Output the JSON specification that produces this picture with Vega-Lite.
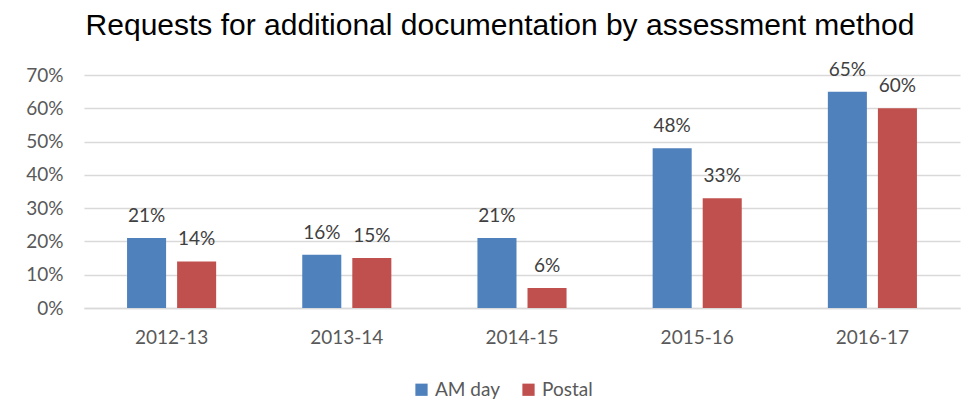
{
  "$schema": "https://vega.github.io/schema/vega-lite/v6.json",
  "autosize": "none",
  "width": 876,
  "height": 233,
  "padding": {"left": 84, "top": 75, "right": 16, "bottom": 110},
  "background": "white",
  "title": {
    "text": "Requests for additional documentation by assessment method",
    "font": "Liberation Sans",
    "fontSize": 30,
    "fontWeight": "normal",
    "color": "#000000",
    "anchor": "middle",
    "dx": -22,
    "offset": 20
  },
  "data": {
    "values": [
      {"year": "2012-13", "method": "AM day", "value": 0.21},
      {"year": "2012-13", "method": "Postal", "value": 0.14},
      {"year": "2013-14", "method": "AM day", "value": 0.16},
      {"year": "2013-14", "method": "Postal", "value": 0.15},
      {"year": "2014-15", "method": "AM day", "value": 0.21},
      {"year": "2014-15", "method": "Postal", "value": 0.06},
      {"year": "2015-16", "method": "AM day", "value": 0.48},
      {"year": "2015-16", "method": "Postal", "value": 0.33},
      {"year": "2016-17", "method": "AM day", "value": 0.65},
      {"year": "2016-17", "method": "Postal", "value": 0.60}
    ]
  },
  "encoding": {
    "x": {
      "field": "year",
      "type": "nominal",
      "title": null,
      "scale": {"paddingInner": 0, "paddingOuter": 0},
      "axis": {
        "labelAngle": 0,
        "ticks": false,
        "domainColor": "#d9d9d9",
        "domainWidth": 1.5,
        "labelFont": "Lato",
        "labelFontSize": 19,
        "labelColor": "#595959",
        "labelPadding": 20
      }
    },
    "xOffset": {
      "field": "method",
      "type": "nominal",
      "scale": {"paddingInner": 0.22, "paddingOuter": 0.86}
    },
    "y": {
      "field": "value",
      "type": "quantitative",
      "title": null,
      "scale": {"domain": [0, 0.7], "nice": false},
      "axis": {
        "format": ".0%",
        "values": [0, 0.1, 0.2, 0.3, 0.4, 0.5, 0.6, 0.7],
        "domain": false,
        "ticks": false,
        "gridColor": "#d9d9d9",
        "gridWidth": 1.5,
        "labelFont": "Lato",
        "labelFontSize": 19,
        "labelColor": "#595959",
        "labelPadding": 21
      }
    }
  },
  "layer": [
    {
      "mark": {"type": "bar"},
      "encoding": {
        "color": {
          "field": "method",
          "type": "nominal",
          "scale": {"domain": ["AM day", "Postal"], "range": ["#4f81bd", "#c0504d"]},
          "legend": {
            "title": null,
            "orient": "none",
            "legendX": 328,
            "legendY": 305,
            "direction": "horizontal",
            "symbolType": "square",
            "symbolSize": 150,
            "symbolStrokeWidth": 0,
            "labelFont": "Lato",
            "labelFontSize": 19,
            "labelColor": "#595959",
            "columnPadding": 18
          }
        }
      }
    },
    {
      "mark": {"type": "text", "baseline": "alphabetic", "dy": -16, "font": "Lato", "fontSize": 19, "color": "#404040"},
      "encoding": {
        "text": {"field": "value", "type": "quantitative", "format": ".0%"}
      }
    }
  ],
  "config": {
    "view": {"stroke": null}
  }
}
